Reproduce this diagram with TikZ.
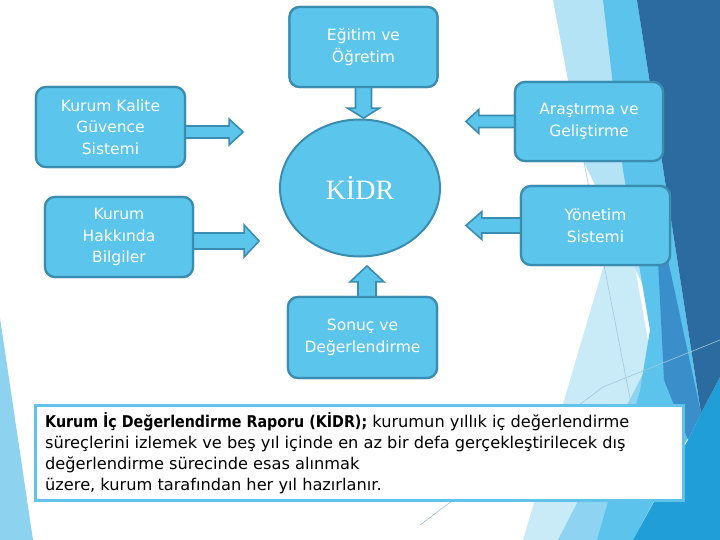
\documentclass[tikz,border=0pt]{standalone}
\usepackage{fontspec}
\setmainfont{DejaVu Sans}
\newfontfamily\kserif{Liberation Serif}
\usetikzlibrary{shapes.geometric,calc}
\definecolor{boxfill}{RGB}{91,197,236}
\definecolor{boxline}{RGB}{58,141,176}
\definecolor{txtline}{RGB}{98,195,234}
\definecolor{bgpale}{RGB}{201,235,248}
\definecolor{bglight}{RGB}{180,227,246}
\definecolor{bglcyan}{RGB}{142,211,241}
\definecolor{bgcyan}{RGB}{91,195,236}
\definecolor{bgdark}{RGB}{44,107,160}
\definecolor{bgbright}{RGB}{31,158,216}
\definecolor{bgmid}{RGB}{58,143,203}
\definecolor{bgleft}{RGB}{141,211,240}
\definecolor{bgthin}{RGB}{160,200,220}
\begin{document}
\begin{tikzpicture}[x=1pt,y=-1pt,
  box/.style={draw=boxline, line width=2.2pt, fill=boxfill, rounded corners=10pt,
    text=white, align=center, font=\fontsize{15.5}{21.5}\selectfont, inner sep=0pt,
    minimum width=148pt, minimum height=80pt},
  barrow/.style={draw=boxline, line width=1.6pt, fill=boxfill, line join=miter},
  bodytext/.style={anchor=base west, inner sep=0pt, font=\fontsize{16.2}{21}\selectfont, text=black}]
\useasboundingbox (0,0) rectangle (720,540);
\fill[white] (0,0) rectangle (720,540);
% background facets
\fill[bgleft] (0,318) -- (33,540) -- (0,540) -- cycle;
\fill[bglight] (553,0) -- (640,0) -- (650,300) -- (583,160) -- cycle;
\fill[bgpale] (623,200) -- (655,380) -- (597,540) -- (523,540) -- cycle;
\fill[bglcyan] (645,370) -- (600,540) -- (558,540) -- cycle;
\fill[bgcyan] (603,0) -- (637,0) -- (701,413) -- (633,540) -- (597,540) -- (640,390)
  -- (650,330) -- (623,170) -- cycle;
\fill[bgmid] (655,200) -- (701,413) -- (688,440) -- (664,380) -- cycle;
\fill[bgbright] (720,377) -- (720,540) -- (633,540) -- (688,440) -- (701,413) -- cycle;
\fill[bgdark] (637,0) -- (720,0) -- (720,377) -- (701,413) -- cycle;
\draw[bgthin, line width=0.6pt] (583,157) -- (640,450);
\draw[bgthin, line width=0.6pt] (420,525) -- (603,387) -- (720,340);
% nodes
\node[box] (egitim) at (363.5,47) {Eğitim ve\\Öğretim};
\node[box, minimum width=149pt] (kalite) at (110.5,127) {Kurum Kalite\\Güvence\\Sistemi};
\node[box] (hakkinda) at (119,237) {Kurum\\Hakkında\\Bilgiler};
\node[box, minimum height=79pt] (arastirma) at (589,121.5) {Araştırma ve\\Geliştirme};
\node[box, minimum width=149pt, minimum height=79pt] (yonetim) at (595.5,225.5) {Yönetim\\Sistemi};
\node[box, minimum width=149pt, minimum height=81pt] (sonuc) at (362.5,337.5) {Sonuç ve\\Değerlendirme};
\node[draw=boxline, line width=2pt, fill=boxfill, ellipse, minimum width=160pt,
  minimum height=137pt, inner sep=0pt, text=white,
  font=\kserif\fontsize{28}{30}\selectfont] (kidr) at (360,188) {KİDR};
% block arrows
\draw[barrow] ($(egitim.south)+(-8,-3)$) -- ++(0,23) -- ++(-8,0) -- ($(egitim.south)+(0,30)$)
  -- ++(16,-10) -- ++(-8,0) -- ++(0,-23) -- cycle;
\draw[barrow] ($(kalite.east)+(-3,-1)$) -- ++(46,0) -- ++(0,-7) -- ++(14,13) -- ++(-14,13)
  -- ++(0,-7) -- ++(-46,0) -- cycle;
\draw[barrow] ($(hakkinda.east)+(-3,-4)$) -- ++(53,0) -- ++(0,-8) -- ++(15,16) -- ++(-15,16)
  -- ++(0,-8) -- ++(-53,0) -- cycle;
\draw[barrow] ($(arastirma.west)+(3,-6)$) -- ++(-38,0) -- ++(0,-6) -- ++(-13,12) -- ++(13,12)
  -- ++(0,-6) -- ++(38,0) -- cycle;
\draw[barrow] ($(yonetim.west)+(3,-7.5)$) -- ++(-41,0) -- ++(0,-6.5) -- ++(-16,14) -- ++(16,14)
  -- ++(0,-6.5) -- ++(41,0) -- cycle;
\draw[barrow] ($(sonuc.north)+(-4.5,3)$) -- ++(0,-17) -- ++(-8,0) -- ++(17,-16) -- ++(17,16)
  -- ++(-8,0) -- ++(0,17) -- cycle;
% redraw boxes over arrow roots
\node[box] at (egitim) {Eğitim ve\\Öğretim};
\node[box, minimum width=149pt] at (kalite) {Kurum Kalite\\Güvence\\Sistemi};
\node[box] at (hakkinda) {Kurum\\Hakkında\\Bilgiler};
\node[box, minimum height=79pt] at (arastirma) {Araştırma ve\\Geliştirme};
\node[box, minimum width=149pt, minimum height=79pt] at (yonetim) {Yönetim\\Sistemi};
\node[box, minimum width=149pt, minimum height=81pt] at (sonuc) {Sonuç ve\\Değerlendirme};
% text box
\node[draw=txtline, line width=3pt, fill=white, minimum width=648pt, minimum height=95pt,
  inner sep=0pt] (rapor) at (359,452.5) {};
\node[bodytext] (l1) at (45,427) {\scalebox{0.88}[1]{\textbf{Kurum İç Değerlendirme Raporu (KİDR);}} kurumun yıllık iç değerlendirme};
\node[bodytext] (l2) at (45,448) {süreçlerini izlemek ve beş yıl içinde en az bir defa gerçekleştirilecek dış};
\node[bodytext] (l3) at (45,469) {değerlendirme sürecinde esas alınmak};
\node[bodytext] (l4) at (45,490) {üzere, kurum tarafından her yıl hazırlanır.};
\end{tikzpicture}
\end{document}
